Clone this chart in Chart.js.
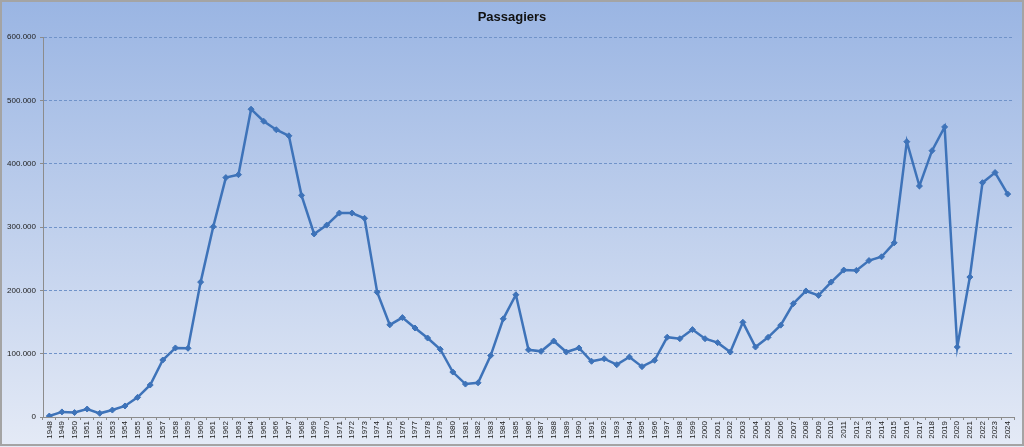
<!DOCTYPE html>
<html>
<head>
<meta charset="utf-8">
<script src="https://cdn.jsdelivr.net/npm/chart.js@4"></script>
<style>
  html, body { margin: 0; padding: 0; background: #fff; }
  canvas { display: block; }
</style>
</head>
<body>
<canvas id="c" width="1024" height="447"></canvas>
<script>
const chartTitle = "Passagiers";
const years = [];
for (let y = 1948; y <= 2024; y++) years.push(String(y));
const passengers = [
  1500, 8000, 7000, 12600, 5800, 11000, 17400, 31000, 50500, 90000,
  109000, 108500, 213000, 300500, 378000, 382600, 486000, 467000, 453600, 444000,
  350000, 289000, 303000, 322000, 322000, 313700, 197000, 145500, 157000, 140500,
  124700, 107000, 71000, 52000, 54000, 97000, 155000, 193000, 106000, 103700,
  120000, 102600, 109000, 88000, 92000, 82600, 94700, 79500, 89500, 126000,
  123600, 138000, 123600, 117400, 102600, 149500, 110500, 125800, 145000, 179000,
  199000, 192000, 213000, 232000, 231500, 247000, 253000, 275000, 434700, 364700,
  420500, 458000, 110500, 221000, 370000, 386000, 352000
];
const yTicks = [0, 100000, 200000, 300000, 400000, 500000, 600000];

function fmt(v) {
  return v === 0 ? "0" : String(v).replace(/\B(?=(\d{3})+(?!\d))/g, ".");
}

const bgPlugin = {
  id: "bg",
  beforeDraw(chart) {
    const ctx = chart.ctx;
    const w = chart.width, h = chart.height;
    ctx.save();
    const g = ctx.createLinearGradient(0, 0, 0, h);
    g.addColorStop(0, "#9ab5e3");
    g.addColorStop(1, "#e4eaf6");
    ctx.fillStyle = g;
    ctx.fillRect(0, 0, w, h);
    ctx.restore();
  },
  afterDraw(chart) {
    const ctx = chart.ctx;
    const w = chart.width, h = chart.height;
    ctx.save();
    ctx.strokeStyle = "#a4a4a4";
    ctx.lineWidth = 2;
    ctx.strokeRect(1, 1, w - 2, h - 3);
    ctx.fillStyle = "#111";
    ctx.font = "bold 13px 'Liberation Sans', Arial, sans-serif";
    ctx.textAlign = "center";
    ctx.textBaseline = "middle";
    ctx.fillText(chartTitle, 512, 17);
    ctx.restore();
  }
};

new Chart(document.getElementById("c"), {
  type: "line",
  data: {
    labels: years,
    datasets: [{
      data: passengers,
      borderColor: "#3e73b9",
      backgroundColor: "#3e73b9",
      borderWidth: 2.5,
      tension: 0,
      pointStyle: "rectRot",
      pointRadius: 3,
      pointBorderWidth: 1,
      fill: false
    }]
  },
  options: {
    responsive: false,
    animation: false,
    layout: { padding: { top: 37, right: 10, left: 0, bottom: 3 } },
    plugins: {
      legend: { display: false },
      title: { display: false },
      tooltip: { enabled: false }
    },
    scales: {
      x: {
        type: "category",
        offset: true,
        grid: {
          offset: true,
          drawOnChartArea: false,
          drawTicks: true,
          tickLength: 3,
          tickColor: "#8c8c8c"
        },
        border: { display: true, color: "#8c8c8c", width: 1 },
        ticks: {
          autoSkip: false,
          minRotation: 90,
          maxRotation: 90,
          padding: 1,
          color: "#222",
          font: { family: "'Liberation Sans', Arial, sans-serif", size: 8 }
        },
        afterFit(scale) { scale.height = 27; }
      },
      y: {
        min: 0,
        max: 600000,
        afterBuildTicks(scale) { scale.ticks = yTicks.map(v => ({ value: v })); },
        grid: {
          color: "#7093c9",
          lineWidth: 1,
          tickLength: 3,
          tickColor: "#8c8c8c",
          tickBorderDash: []
        },
        border: { display: true, color: "#8c8c8c", width: 1, dash: [3, 2] },
        ticks: {
          padding: 4,
          color: "#222",
          font: { family: "'Liberation Sans', Arial, sans-serif", size: 8 },
          callback: (v) => fmt(v)
        },
        afterFit(scale) { scale.width = 43; }
      }
    }
  },
  plugins: [bgPlugin]
});
</script>
</body>
</html>
